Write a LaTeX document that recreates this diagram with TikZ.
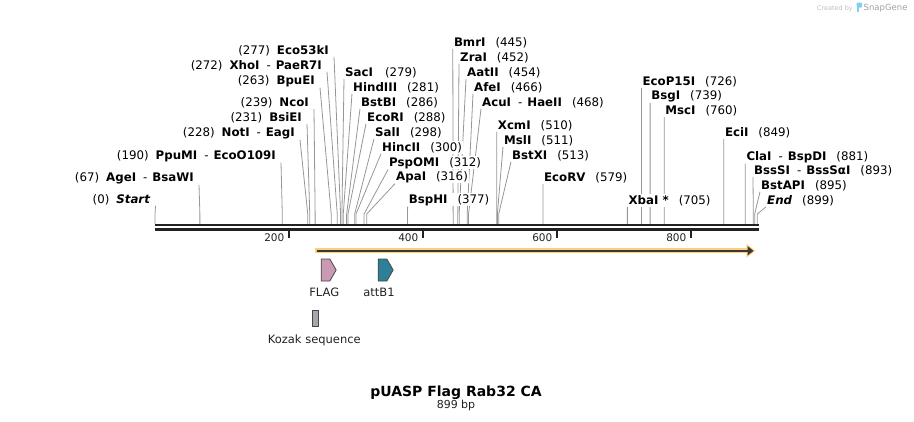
\documentclass[tikz,border=0pt]{standalone}
\usepackage{fontspec}
\setmainfont{DejaVu Sans}
\usetikzlibrary{arrows.meta,backgrounds,positioning,shapes.symbols}
\definecolor{rulerdark}{RGB}{34,34,34}
\definecolor{sitegray}{RGB}{150,150,150}
\definecolor{orfyellow}{RGB}{250,208,125}
\definecolor{orfdark}{RGB}{60,55,50}
\definecolor{flagpink}{RGB}{204,153,180}
\definecolor{attteal}{RGB}{45,128,152}
\definecolor{kozakgray}{RGB}{166,166,174}
\definecolor{featedge}{RGB}{70,70,70}
\definecolor{creditgray}{RGB}{190,190,190}
\definecolor{snapblue}{RGB}{130,205,240}
\tikzset{
    lsite/.style={
    anchor=base east,fill=white,inner xsep=5pt,inner ysep=1pt,font=\fontsize{11.8}{13}\selectfont
    },
    rsite/.style={
    anchor=base west,fill=white,inner xsep=1pt,inner ysep=1pt,font=\fontsize{11.8}{13}\selectfont
    },
    siteline/.style={
    draw=sitegray,line width=0.8pt,to path={-- ([yshift=10pt]\tikztotarget) -- (\tikztotarget)}
    },
    rulerline/.style={
    draw=rulerdark,line width=2.4pt
    },
    rulertick/.style={
    draw=rulerdark,line width=1.8pt
    },
    tickno/.style={
    anchor=base east,inner sep=0pt,text=rulerdark,font=\fontsize{10.5}{12}\selectfont
    },
    feature/.style={
    signal,signal to=east,signal pointer angle=120,draw=featedge,line width=0.8pt,
    minimum width=15pt,minimum height=22pt,inner sep=0pt
    },
    kozak/.style={
    rectangle,draw=featedge,fill=kozakgray,line width=0.8pt,
    minimum width=6pt,minimum height=16pt,inner sep=0pt
    },
    flabel/.style={
    anchor=base,inner sep=0pt,text=rulerdark,font=\fontsize{11.5}{13}\selectfont
    },
    maptitle/.style={
    anchor=base,inner sep=0pt,font=\fontsize{14}{16}\selectfont\bfseries
    },
    bplen/.style={
    inner sep=0pt,text=rulerdark,font=\fontsize{11}{13}\selectfont
    },
    credit/.style={
    inner sep=0pt,text=creditgray
    },
}

\begin{document}
\begin{tikzpicture}[x=1pt,y=-1pt]
   \useasboundingbox (0,0) rectangle (914,421);

   % sites on the ruler
   \coordinate (Startr) at ({155+0.67*0},224);
   \coordinate (AgeIr) at ({155+0.67*67},224);
   \coordinate (PpuMIr) at ({155+0.67*190},224);
   \coordinate (NotIr) at ({155+0.67*228},224);
   \coordinate (BsiEIr) at ({155+0.67*231},224);
   \coordinate (NcoIr) at ({155+0.67*239},224);
   \coordinate (BpuEIr) at ({155+0.67*263},224);
   \coordinate (XhoIr) at ({155+0.67*272},224);
   \coordinate (Eco53kIr) at ({155+0.67*277},224);
   \coordinate (SacIr) at ({155+0.67*279},224);
   \coordinate (HindIIIr) at ({155+0.67*281},224);
   \coordinate (BstBIr) at ({155+0.67*286},224);
   \coordinate (EcoRIr) at ({155+0.67*288},224);
   \coordinate (SalIr) at ({155+0.67*298},224);
   \coordinate (HincIIr) at ({155+0.67*300},224);
   \coordinate (PspOMIr) at ({155+0.67*312},224);
   \coordinate (ApaIr) at ({155+0.67*316},224);
   \coordinate (BspHIr) at ({155+0.67*377},224);
   \coordinate (BmrIr) at ({155+0.67*445},224);
   \coordinate (ZraIr) at ({155+0.67*452},224);
   \coordinate (AatIIr) at ({155+0.67*454},224);
   \coordinate (AfeIr) at ({155+0.67*466},224);
   \coordinate (AcuIr) at ({155+0.67*468},224);
   \coordinate (XcmIr) at ({155+0.67*510},224);
   \coordinate (MslIr) at ({155+0.67*511},224);
   \coordinate (BstXIr) at ({155+0.67*513},224);
   \coordinate (EcoRVr) at ({155+0.67*579},224);
   \coordinate (XbaIr) at ({155+0.67*705},224);
   \coordinate (EcoP15Ir) at ({155+0.67*726},224);
   \coordinate (BsgIr) at ({155+0.67*739},224);
   \coordinate (MscIr) at ({155+0.67*760},224);
   \coordinate (EciIr) at ({155+0.67*849},224);
   \coordinate (ClaIr) at ({155+0.67*881},224);
   \coordinate (BssSIr) at ({155+0.67*893},224);
   \coordinate (BstAPIr) at ({155+0.67*895},224);
   \coordinate (Endr) at ({155+0.67*899},224);

   % labels left of their line
   \node[lsite] (Eco53kI) at (334,54) {(277)\hspace{7pt}\textbf{Eco53kI}};
   \node[lsite] (XhoI) at (327,69) {(272)\hspace{7pt}\textbf{XhoI}\hspace{7pt}-\hspace{5pt}\textbf{PaeR7I}};
   \node[lsite] (BpuEI) at (320,84) {(263)\hspace{7pt}\textbf{BpuEI}};
   \node[lsite] (NcoI) at (314,106) {(239)\hspace{7pt}\textbf{NcoI}};
   \node[lsite] (BsiEI) at (307,121) {(231)\hspace{7pt}\textbf{BsiEI}};
   \node[lsite] (NotI) at (300,136) {(228)\hspace{7pt}\textbf{NotI}\hspace{7pt}-\hspace{5pt}\textbf{EagI}};
   \node[lsite] (PpuMI) at (281,159) {(190)\hspace{7pt}\textbf{PpuMI}\hspace{7pt}-\hspace{5pt}\textbf{EcoO109I}};
   \node[lsite] (AgeI) at (199,181) {(67)\hspace{7pt}\textbf{AgeI}\hspace{7pt}-\hspace{5pt}\textbf{BsaWI}};
   \node[lsite] (Start) at (155.5,203) {(0)\hspace{7pt}\textbf{\textit{Start}}};

   % labels right of their line
   \node[rsite] (SacI) at (344,76) {\textbf{SacI}\hspace{12pt}(279)};
   \node[rsite] (HindIII) at (352,91) {\textbf{HindIII}\hspace{10pt}(281)};
   \node[rsite] (BstBI) at (360,106) {\textbf{BstBI}\hspace{10pt}(286)};
   \node[rsite] (EcoRI) at (366,121) {\textbf{EcoRI}\hspace{10pt}(288)};
   \node[rsite] (SalI) at (374,136) {\textbf{SalI}\hspace{10pt}(298)};
   \node[rsite] (HincII) at (381,151) {\textbf{HincII}\hspace{10pt}(300)};
   \node[rsite] (PspOMI) at (388,166) {\textbf{PspOMI}\hspace{10pt}(312)};
   \node[rsite] (ApaI) at (395,180) {\textbf{ApaI}\hspace{10pt}(316)};
   \node[rsite] (BspHI) at (407.6,203) {\textbf{BspHI}\hspace{10pt}(377)};
   \node[rsite] (BmrI) at (452.8,46) {\textbf{BmrI}\hspace{10pt}(445)};
   \node[rsite] (ZraI) at (459,61) {\textbf{ZraI}\hspace{10pt}(452)};
   \node[rsite] (AatII) at (466,76) {\textbf{AatII}\hspace{10pt}(454)};
   \node[rsite] (AfeI) at (473,91) {\textbf{AfeI}\hspace{10pt}(466)};
   \node[rsite] (AcuI) at (481,106) {\textbf{AcuI}\hspace{7pt}-\hspace{5pt}\textbf{HaeII}\hspace{10pt}(468)};
   \node[rsite] (XcmI) at (496.7,129) {\textbf{XcmI}\hspace{10pt}(510)};
   \node[rsite] (MslI) at (503,144) {\textbf{MslI}\hspace{10pt}(511)};
   \node[rsite] (BstXI) at (511,159) {\textbf{BstXI}\hspace{10pt}(513)};
   \node[rsite] (EcoRV) at (542.9,181) {\textbf{EcoRV}\hspace{10pt}(579)};
   \node[rsite] (XbaI) at (627.4,204) {\textbf{XbaI *}\hspace{10pt}(705)};
   \node[rsite] (EcoP15I) at (641.4,85) {\textbf{EcoP15I}\hspace{10pt}(726)};
   \node[rsite] (BsgI) at (650.1,99) {\textbf{BsgI}\hspace{10pt}(739)};
   \node[rsite] (MscI) at (664.2,114) {\textbf{MscI}\hspace{10pt}(760)};
   \node[rsite] (EciI) at (723.8,136) {\textbf{EciI}\hspace{10pt}(849)};
   \node[rsite] (ClaI) at (745.3,160) {\textbf{ClaI}\hspace{7pt}-\hspace{5pt}\textbf{BspDI}\hspace{10pt}(881)};
   \node[rsite] (BssSI) at (753,174) {\textbf{BssSI}\hspace{7pt}-\hspace{5pt}\textbf{BssSαI}\hspace{10pt}(893)};
   \node[rsite] (BstAPI) at (760,189) {\textbf{BstAPI}\hspace{10pt}(895)};
   \node[rsite] (End) at (766,204) {\textbf{\textit{End}}\hspace{10pt}(899)};

   \begin{pgfonlayer}{background}
   \path[siteline]
     (Start.south east) edge (Startr)
     (AgeI.south east) edge (AgeIr)
     (PpuMI.south east) edge (PpuMIr)
     (NotI.south east) edge (NotIr)
     (BsiEI.south east) edge (BsiEIr)
     (NcoI.south east) edge (NcoIr)
     (BpuEI.south east) edge (BpuEIr)
     (XhoI.south east) edge (XhoIr)
     (Eco53kI.south east) edge (Eco53kIr)
     (SacI.south west) edge (SacIr)
     (HindIII.south west) edge (HindIIIr)
     (BstBI.south west) edge (BstBIr)
     (EcoRI.south west) edge (EcoRIr)
     (SalI.south west) edge (SalIr)
     (HincII.south west) edge (HincIIr)
     (PspOMI.south west) edge (PspOMIr)
     (ApaI.south west) edge (ApaIr)
     (BspHI.south west) edge (BspHIr)
     (BmrI.south west) edge (BmrIr)
     (ZraI.south west) edge (ZraIr)
     (AatII.south west) edge (AatIIr)
     (AfeI.south west) edge (AfeIr)
     (AcuI.south west) edge (AcuIr)
     (XcmI.south west) edge (XcmIr)
     (MslI.south west) edge (MslIr)
     (BstXI.south west) edge (BstXIr)
     (EcoRV.south west) edge (EcoRVr)
     (XbaI.south west) edge (XbaIr)
     (EcoP15I.south west) edge (EcoP15Ir)
     (BsgI.south west) edge (BsgIr)
     (MscI.south west) edge (MscIr)
     (EciI.south west) edge (EciIr)
     (ClaI.south west) edge (ClaIr)
     (BssSI.south west) edge (BssSIr)
     (BstAPI.south west) edge (BstAPIr)
     (End.south west) edge (Endr);
   \end{pgfonlayer}

   % ruler
   \draw[rulerline] (155,225.2) -- (759,225.2);
   \draw[rulerline,line width=2.8pt] (155,229.3) -- (759,229.3);
   \draw[rulertick] (289.2,229) -- (289.2,238);
   \draw[rulertick] (423.2,229) -- (423.2,238);
   \draw[rulertick] (557.2,229) -- (557.2,238);
   \draw[rulertick] (691.2,229) -- (691.2,238);
   \node[tickno] (t200) at (284.5,241) {200};
   \node[tickno] (t400) at (418.5,241) {400};
   \node[tickno] (t600) at (552.5,241) {600};
   \node[tickno] (t800) at (686.5,241) {800};

   % Rab32 CA open reading frame
   \coordinate (orfS) at (315,250.8);
   \coordinate (orfE) at (755.5,250.8);
   \draw[orfyellow,line width=5pt,-{Triangle[length=9pt,width=13pt]}] (orfS) -- (orfE);
   \draw[orfdark,line width=2pt,shorten <=1.5pt,shorten >=2pt,-{Triangle[length=6pt,width=9pt]}] (orfS) -- (orfE);

   % features
   \node[feature,fill=flagpink] (FLAG) at (325.5,270) {};
   \node[feature,fill=attteal] (attB1) at (382.5,270) {};
   \node[kozak] (Kozak) at (315,318) {};
   \node[flabel] (FLAGt) at (324.3,296.7) {FLAG};
   \node[flabel] (attB1t) at (379,296.7) {attB1};
   \node[flabel] (Kozakt) at (314.3,343) {Kozak sequence};

   % name and length
   \node[maptitle] (title) at (456,396.5) {pUASP Flag Rab32 CA};
   \node[bplen,below=0.5pt of title] (length) {899 bp};

   % credit
   \node[credit,anchor=base east,font=\fontsize{6.5}{8}\selectfont] (createdby) at (853,10) {Created by};
   \fill[snapblue,rounded corners=1pt] (856.5,2.5) rectangle (862,7.5);
   \fill[snapblue] (856.5,2.5) rectangle (858.6,12);
   \node[credit,anchor=base west,font=\fontsize{8.5}{10}\selectfont,text=creditgray!85!black] (snapgene) at (863.5,10) {SnapGene};
\end{tikzpicture}
\end{document}
